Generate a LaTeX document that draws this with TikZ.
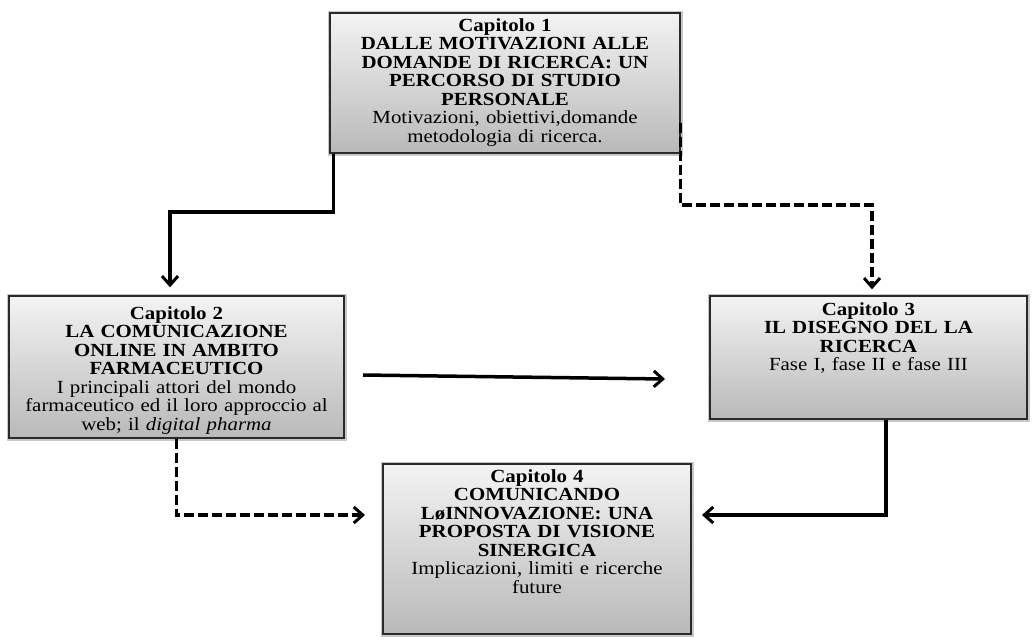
\documentclass[tikz,border=0pt]{standalone}
\usepackage{fontspec}
\setmainfont{Liberation Serif}[FakeStretch=1.13,WordSpace=0.75]
\usetikzlibrary{arrows.meta,calc}
\definecolor{boxtop}{HTML}{F3F3F3}
\definecolor{boxbot}{HTML}{B9B9B9}
\definecolor{boxline}{HTML}{2A2A2A}
\definecolor{haze}{HTML}{C8C8C8}
\tikzset{
  chapbox/.style={rectangle, draw=boxline, line width=1.4pt,
    top color=boxtop, bottom color=boxbot, inner sep=0pt,
    preaction={draw=haze, line width=5pt}},
  chaptext/.style={anchor=north, align=center, inner sep=0pt,
    text width=#1, font=\fontsize{18.5}{18.5}\selectfont},
  link/.style={line width=3.5pt, black,
    -{Straight Barb[length=9pt,width=16pt,line width=3pt]}},
  dlink/.style={link, dash pattern=on 10pt off 4pt},
}
\begin{document}
\begin{tikzpicture}[x=1pt,y=-1pt]
\useasboundingbox (0,0) rectangle (1035,641);

% chapter boxes
\node[chapbox, minimum width=350pt, minimum height=140pt] (c1) at (505,83) {};
\node[chapbox, minimum width=335pt, minimum height=142pt] (c2) at (176.5,367) {};
\node[chapbox, minimum width=317pt, minimum height=123pt] (c3) at (868.5,357.5) {};
\node[chapbox, minimum width=308pt, minimum height=170pt] (c4) at (537,549) {};

% chapter texts
\node[chaptext=345pt] (t1) at ([yshift=-6pt]c1.north)
  {\textbf{Capitolo 1\\DALLE MOTIVAZIONI ALLE\\DOMANDE DI RICERCA: UN\\PERCORSO DI STUDIO\\PERSONALE}\\Motivazioni, obiettivi,domande\\metodologia di ricerca.};
\node[chaptext=335pt] (t2) at ([yshift=-11pt]c2.north)
  {\textbf{Capitolo 2\\LA COMUNICAZIONE\\ONLINE IN AMBITO\\FARMACEUTICO}\\I principali attori del mondo\\farmaceutico ed il loro approccio al\\web; il \textit{digital pharma}};
\node[chaptext=317pt] (t3) at ([yshift=-7pt]c3.north)
  {\textbf{Capitolo 3\\IL DISEGNO DEL LA\\RICERCA}\\Fase I, fase II e fase III};
\node[chaptext=308pt] (t4) at ([yshift=-6pt]c4.north)
  {\textbf{Capitolo 4\\COMUNICANDO\\LøINNOVAZIONE: UNA\\PROPOSTA DI VISIONE\\SINERGICA}\\Implicazioni, limiti e ricerche\\future};

% bend points and free ends of the connectors
\coordinate (k1) at (170,212);
\coordinate (k2) at (872,205);
\coordinate (h1) at (363,375);
\coordinate (h2) at (665,379);
\coordinate (k3) at (365,515);
\coordinate (k4) at (886,515);
\coordinate (k5) at (702,515);

% connectors
\draw[link, shorten >=8pt] ([xshift=4pt]c1.south west) |- (k1) -- (k1 |- c2.north);
\draw[dlink, shorten >=6pt] ([yshift=31pt]c1.south east) |- (k2) -- (k2 |- c3.north);
\draw[link] (h1) -- (h2);
\draw[dlink] (c2.south) |- (k3);
\draw[link] (k4 |- c3.south) -- (k4) -- (k5);
\end{tikzpicture}
\end{document}
